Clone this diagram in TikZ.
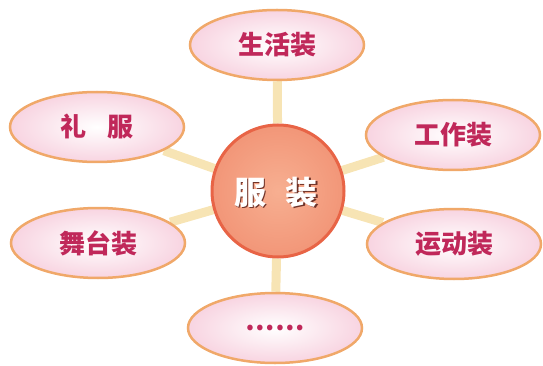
\documentclass[tikz,border=0pt]{standalone}
\usepackage{fontspec}
\newfontfamily\cjk{Noto Sans CJK SC}
\usetikzlibrary{shapes.geometric,backgrounds}
\definecolor{petal}{RGB}{192,40,90}
\definecolor{rim}{RGB}{240,168,105}
\definecolor{stem}{RGB}{247,228,180}
\definecolor{coreIn}{RGB}{247,175,145}
\definecolor{coreOut}{RGB}{242,150,120}
\definecolor{coreRim}{RGB}{232,100,70}
\definecolor{coreShadow}{RGB}{110,50,40}
\tikzset{
  leaf/.style={ellipse, minimum width=174pt, minimum height=70pt, inner sep=0pt,
    draw=rim, line width=2.5pt, inner color=white,
    outer color={rgb,255:red,248;green,212;blue,225}, text=petal,
    font=\cjk\bfseries\fontsize{26}{26}\selectfont},
  core/.style={circle, minimum size=132pt, draw=coreRim, line width=3pt,
    inner color=coreIn, outer color=coreOut},
  coretext/.style={inner sep=0pt, font=\cjk\bfseries\fontsize{32}{32}\selectfont},
  stalk/.style={line width=9pt, draw=stem}
}
\begin{document}
\begin{tikzpicture}[x=1pt, y=-1pt]
    \useasboundingbox (0,0) rectangle (543,366);
    \node[core] (core) at (278,191) {};
    \node[coretext, text=coreShadow] (coreshadow) at (277.5,193.5) {服\hspace{0.6em}装};
    \node[coretext, text=white] (coretext) at (276,192) {服\hspace{0.6em}装};

    \node[leaf] (life)  at (277,45)  {生活装};
    \node[leaf] (dress) at (97,127)  {礼\hspace{0.8em}服};
    \node[leaf] (work)  at (453,135) {工作装};
    \node[leaf] (stage) at (98,243)  {舞台装};
    \node[leaf] (sport) at (454,244) {运动装};
    \node[leaf] (more)  at (275,328) {……};

    \begin{scope}[on background layer]
        \foreach \leaf in {life, dress, work, stage, sport, more}
            \draw[stalk] (core) -- (\leaf);
    \end{scope}
\end{tikzpicture}
\end{document}
